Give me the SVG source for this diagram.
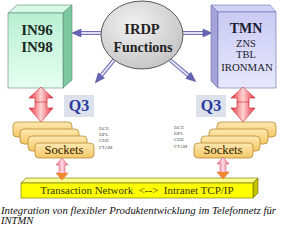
<svg xmlns="http://www.w3.org/2000/svg" width="284" height="228" viewBox="0 0 284 228" font-family="'Liberation Serif', serif">
<style>
text{font-family:'Liberation Serif',serif}
.b{font-weight:bold}
.lab{font-size:5px;fill:#555}
.lav{stroke:#7070bb;stroke-width:4;fill:none}
.lavin{stroke:#ececf8;stroke-width:1.8;fill:none}
.lavhd{fill:#6464b4;stroke:#4a4a98;stroke-width:0.5}
.card{fill:url(#gCard);stroke:#b88a30;stroke-width:0.8}
.q3bg{fill:#dde1ec}
.q3{font-weight:bold;font-size:16px;fill:#2a3a9c;text-anchor:middle}
</style>
<defs>
<linearGradient id="gGreen" x1="0" y1="0" x2="0" y2="1"><stop offset="0" stop-color="#b8efd2"/><stop offset="1" stop-color="#e6fff1"/></linearGradient>
<linearGradient id="gBlue" x1="0" y1="0" x2="0" y2="1"><stop offset="0" stop-color="#cacaf4"/><stop offset="1" stop-color="#e8e8fc"/></linearGradient>
<radialGradient id="gEll" cx="0.4" cy="0.35" r="0.7"><stop offset="0" stop-color="#f2f2f2"/><stop offset="1" stop-color="#c4c4c4"/></radialGradient>
<linearGradient id="gRed" x1="0" y1="0" x2="1" y2="0"><stop offset="0" stop-color="#e8303c"/><stop offset="0.5" stop-color="#ffd4d4"/><stop offset="1" stop-color="#e8303c"/></linearGradient>
<linearGradient id="gPink" x1="0" y1="0" x2="1" y2="0"><stop offset="0" stop-color="#ec6a86"/><stop offset="0.5" stop-color="#ffd8e4"/><stop offset="1" stop-color="#ec6a86"/></linearGradient>
<linearGradient id="gCard" x1="0" y1="0" x2="0" y2="1"><stop offset="0" stop-color="#ffe8b0"/><stop offset="1" stop-color="#f4c868"/></linearGradient>
<path id="redArrow" d="M0,0 L12,11 L6,11 L6,21 L12,21 L0,35 L-12,21 L-6,21 L-6,11 L-12,11 Z" fill="url(#gRed)" stroke="#c8202c" stroke-width="0.6"/>
<path id="pinkArrow" d="M0,0 L6,7 L3,7 L3,15 L6,15 L0,22 L-6,15 L-3,15 L-3,7 L-6,7 Z" fill="url(#gPink)" stroke="#d04868" stroke-width="0.5"/>
</defs>
<rect width="284" height="228" fill="#fff"/>

<g id="connectors">
  <g id="arrow-left">
    <line class="lav" x1="106" y1="33" x2="80" y2="33"/><line class="lavin" x1="106" y1="33" x2="80" y2="33"/>
    <polygon class="lavhd" points="81,29 72,33 81,37"/>
  </g>
  <g id="arrow-right">
    <line class="lav" x1="178" y1="33" x2="204" y2="33"/><line class="lavin" x1="178" y1="33" x2="204" y2="33"/>
    <polygon class="lavhd" points="203,29 212,33 203,37"/>
  </g>
  <g id="arrow-dl" transform="translate(114,60) rotate(129.3)">
    <line class="lav" x1="0" y1="0" x2="21" y2="0"/><line class="lavin" x1="0" y1="0" x2="21" y2="0"/>
    <polygon class="lavhd" points="20,-4 29.5,0 20,4"/>
  </g>
  <g id="arrow-dr" transform="translate(170,60) rotate(40)">
    <line class="lav" x1="0" y1="0" x2="25" y2="0"/><line class="lavin" x1="0" y1="0" x2="25" y2="0"/>
    <polygon class="lavhd" points="24,-4 33.5,0 24,4"/>
  </g>
</g>

<g id="irdp">
  <ellipse cx="142" cy="35" rx="41" ry="34" fill="url(#gEll)" stroke="#5a5a5a" stroke-width="1"/>
  <text class="b" x="142" y="34" font-size="14.5" text-anchor="middle" fill="#222" font-family="'Liberation Serif', serif">IRDP</text>
  <text class="b" x="143" y="52" font-size="14" text-anchor="middle" fill="#222" font-family="'Liberation Serif', serif">Functions</text>
</g>

<g id="in-box">
  <polygon points="8,13 17,5 72,5 63,13" fill="#d6f8e6" stroke="#5a8a74" stroke-width="0.6"/>
  <polygon points="63,13 72,5 72,80 63,88" fill="#7cc8a0" stroke="#5a8a74" stroke-width="0.6"/>
  <rect x="8" y="13" width="55" height="75" fill="url(#gGreen)" stroke="#5a8a74" stroke-width="0.6"/>
  <text class="b" x="37" y="35" font-size="15" text-anchor="middle" fill="#1c2a24" font-family="'Liberation Serif', serif">IN96</text>
  <text class="b" x="37" y="52" font-size="15" text-anchor="middle" fill="#1c2a24" font-family="'Liberation Serif', serif">IN98</text>
</g>

<g id="tmn-box">
  <polygon points="211,5 270,5 276,12 218,12" fill="#d2d2f6" stroke="#6a6aa8" stroke-width="0.6"/>
  <polygon points="211,5 218,12 218,88 211,81" fill="#a4a4da" stroke="#6a6aa8" stroke-width="0.6"/>
  <rect x="218" y="12" width="58" height="76" fill="url(#gBlue)" stroke="#6a6aa8" stroke-width="0.6"/>
  <text class="b" x="246" y="33" font-size="14" text-anchor="middle" fill="#1a1a30" font-family="'Liberation Serif', serif">TMN</text>
  <text x="246" y="47" font-size="10.5" text-anchor="middle" fill="#1a1a30" font-family="'Liberation Serif', serif">ZNS</text>
  <text x="246" y="58" font-size="10.5" text-anchor="middle" fill="#1a1a30" font-family="'Liberation Serif', serif">TBL</text>
  <text x="247" y="71" font-size="10.8" text-anchor="middle" fill="#1a1a30" font-family="'Liberation Serif', serif">IRONMAN</text>
</g>

<g id="red-arrows">
  <use href="#redArrow" x="41" y="87"/>
  <line x1="35" y1="102" x2="47" y2="102" stroke="#c8202c" stroke-width="0.6"/>
  <use href="#redArrow" x="243" y="87"/>
  <line x1="237" y1="102" x2="249" y2="102" stroke="#c8202c" stroke-width="0.6"/>
</g>

<g id="q3-left">
  <rect class="q3bg" x="64" y="95" width="30" height="22"/>
  <text class="q3" x="79" y="111" font-family="'Liberation Serif', serif">Q3</text>
</g>
<g id="q3-right">
  <rect class="q3bg" x="196" y="95" width="30" height="22"/>
  <text class="q3" x="211" y="111" font-family="'Liberation Serif', serif">Q3</text>
</g>

<g id="sockets-left">
  <rect class="card" x="13" y="122" width="59" height="15" rx="4"/>
  <rect class="card" x="20" y="129" width="59" height="15" rx="4"/>
  <rect class="card" x="28" y="136" width="59" height="15" rx="4"/>
  <rect class="card" x="35" y="143" width="59" height="15" rx="4"/>
  <text x="64" y="154" font-size="12.5" text-anchor="middle" fill="#2a2000" font-family="'Liberation Serif', serif">Sockets</text>
  <text class="lab" x="99" y="130" font-family="'Liberation Serif', serif">DCE</text>
  <text class="lab" x="99" y="136" font-family="'Liberation Serif', serif">DPL</text>
  <text class="lab" x="99" y="142" font-family="'Liberation Serif', serif">CDE</text>
  <text class="lab" x="99" y="148.5" font-family="'Liberation Serif', serif">FTAM</text>
</g>

<g id="sockets-right">
  <rect class="card" x="217" y="122" width="59" height="15" rx="4"/>
  <rect class="card" x="209" y="129" width="59" height="15" rx="4"/>
  <rect class="card" x="201" y="136" width="59" height="15" rx="4"/>
  <rect class="card" x="194" y="143" width="59" height="15" rx="4"/>
  <text x="223" y="154" font-size="12.5" text-anchor="middle" fill="#2a2000" font-family="'Liberation Serif', serif">Sockets</text>
  <text class="lab" x="174" y="129" font-family="'Liberation Serif', serif">DCE</text>
  <text class="lab" x="174" y="135" font-family="'Liberation Serif', serif">DPL</text>
  <text class="lab" x="174" y="141" font-family="'Liberation Serif', serif">CDE</text>
  <text class="lab" x="174" y="148" font-family="'Liberation Serif', serif">FTAM</text>
</g>

<g id="network-bar">
  <polygon points="21,183 26,178 258,178 253,183" fill="#ffff8a" stroke="#6a6a00" stroke-width="0.6"/>
  <polygon points="253,183 258,178 258,193 253,198" fill="#c4c400" stroke="#6a6a00" stroke-width="0.6"/>
  <rect x="21" y="183" width="232" height="15" fill="#ffff00" stroke="#6a6a00" stroke-width="0.6"/>
  <text x="137" y="194" font-size="11" text-anchor="middle" fill="#3a3a10" xml:space="preserve" font-family="'Liberation Serif', serif">Transaction Network  &lt;--&gt;  Intranet TCP/IP</text>
</g>

<g id="pink-arrows">
  <use href="#pinkArrow" x="62" y="158"/>
  <polygon points="56,173 68,173 62,180" fill="#f08a28"/>
  <use href="#pinkArrow" x="223" y="157"/>
  <polygon points="217,172 229,172 223,179" fill="#f08a28"/>
</g>

<g id="caption">
  <text x="1" y="214" font-size="10.6" font-style="italic" fill="#111" textLength="275" lengthAdjust="spacingAndGlyphs" font-family="'Liberation Serif', serif">Integration von flexibler Produktentwicklung im Telefonnetz für</text>
  <text x="1" y="224" font-size="10.6" font-style="italic" fill="#111" font-family="'Liberation Serif', serif">INTMN</text>
</g>
</svg>
